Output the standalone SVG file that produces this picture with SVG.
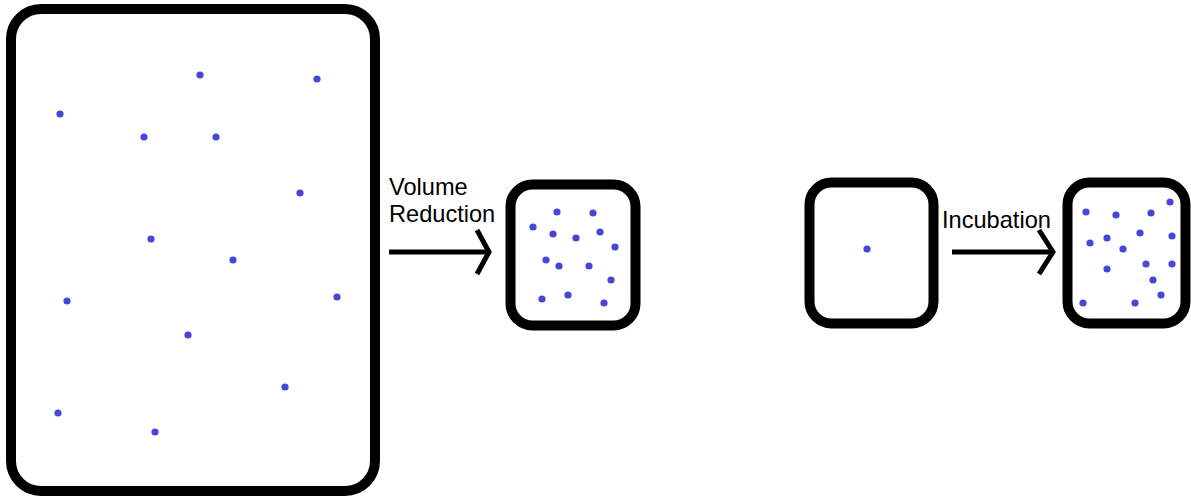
<svg xmlns="http://www.w3.org/2000/svg" width="1191" height="498" viewBox="0 0 1191 498">
  <style>
    .box { fill: #ffffff; stroke: #000000; stroke-width: 10; }
    .dot { fill: #4646d8; }
    .arrow { fill: none; stroke: #000000; stroke-width: 5; stroke-linecap: butt; stroke-linejoin: miter; }
    .label { font-family: "Liberation Sans", Arial, sans-serif; font-size: 23.6px; fill: #000000; }
  </style>
  <defs>
    <circle id="cell" r="3.6" class="dot"/>
  </defs>
  <rect width="1191" height="498" fill="#ffffff"/>

  <!-- large sample volume -->
  <g id="large-sample">
    <rect class="box" x="11" y="9" width="364" height="482" rx="30" ry="30"/>
    <use href="#cell" x="200" y="75"/>
    <use href="#cell" x="317" y="79"/>
    <use href="#cell" x="60" y="114"/>
    <use href="#cell" x="144" y="137"/>
    <use href="#cell" x="216" y="137"/>
    <use href="#cell" x="300" y="193"/>
    <use href="#cell" x="151" y="239"/>
    <use href="#cell" x="233" y="260"/>
    <use href="#cell" x="67" y="301"/>
    <use href="#cell" x="337" y="297"/>
    <use href="#cell" x="188" y="335"/>
    <use href="#cell" x="285" y="387"/>
    <use href="#cell" x="58" y="413"/>
    <use href="#cell" x="155" y="432"/>
  </g>

  <!-- concentrated sample -->
  <g id="concentrated-sample">
    <rect class="box" x="510.5" y="184.5" width="125" height="141" rx="22" ry="22"/>
    <use href="#cell" x="533" y="227"/>
    <use href="#cell" x="557" y="212"/>
    <use href="#cell" x="593" y="213"/>
    <use href="#cell" x="553" y="234"/>
    <use href="#cell" x="576" y="238"/>
    <use href="#cell" x="600" y="232"/>
    <use href="#cell" x="615" y="247"/>
    <use href="#cell" x="546" y="260"/>
    <use href="#cell" x="559" y="266"/>
    <use href="#cell" x="589" y="266"/>
    <use href="#cell" x="611" y="280"/>
    <use href="#cell" x="542" y="299"/>
    <use href="#cell" x="568" y="295"/>
    <use href="#cell" x="604" y="303"/>
  </g>

  <!-- single cell before incubation -->
  <g id="single-cell-sample">
    <rect class="box" x="809.5" y="182.5" width="124" height="141" rx="22" ry="22"/>
    <use href="#cell" x="867" y="249"/>
  </g>

  <!-- grown culture after incubation -->
  <g id="incubated-sample">
    <rect class="box" x="1067.5" y="182.5" width="118" height="141" rx="22" ry="22"/>
    <use href="#cell" x="1086" y="212"/>
    <use href="#cell" x="1116" y="215"/>
    <use href="#cell" x="1151" y="213"/>
    <use href="#cell" x="1170" y="202"/>
    <use href="#cell" x="1090" y="243"/>
    <use href="#cell" x="1107" y="238"/>
    <use href="#cell" x="1140" y="233"/>
    <use href="#cell" x="1123" y="249"/>
    <use href="#cell" x="1172" y="236"/>
    <use href="#cell" x="1107" y="269"/>
    <use href="#cell" x="1146" y="264"/>
    <use href="#cell" x="1172" y="264"/>
    <use href="#cell" x="1153" y="280"/>
    <use href="#cell" x="1161" y="295"/>
    <use href="#cell" x="1083" y="303"/>
    <use href="#cell" x="1135" y="303"/>
  </g>

  <!-- process arrows -->
  <g id="connectors">
    <line class="arrow" x1="389" y1="252" x2="489" y2="252"/>
    <polyline class="arrow" points="477,230 489,252 477,274"/>
    <line class="arrow" x1="952" y1="252" x2="1053" y2="252"/>
    <polyline class="arrow" points="1039,230 1053,252 1039,274"/>
  </g>

  <g id="labels">
    <text class="label" x="389" y="195">Volume</text>
    <text class="label" x="389" y="222">Reduction</text>
    <text class="label" x="942" y="228">Incubation</text>
  </g>
</svg>
